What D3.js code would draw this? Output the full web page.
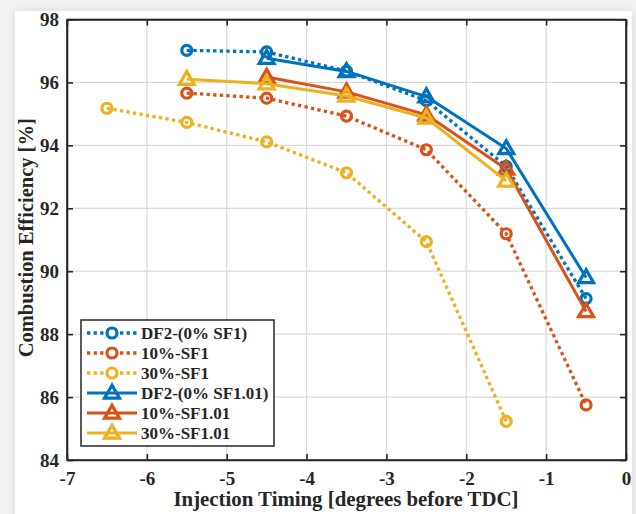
<!DOCTYPE html>
<html>
<head>
<meta charset="utf-8">
<script src="https://cdn.jsdelivr.net/npm/d3@7"></script>
<style>
  html, body { margin: 0; padding: 0; background: #ececec; }
  svg { display: block; }
</style>
</head>
<body>
<svg id="chart" width="636" height="514"></svg>
<script>
// Injection timing (degrees before TDC)
const timingSF1 = [-5.5, -4.5, -3.5, -2.5, -1.5, -0.5];
const timing30SF1 = [-6.5, -5.5, -4.5, -3.5, -2.5, -1.5];
const timingSF101 = [-4.5, -3.5, -2.5, -1.5, -0.5];
const timing30SF101 = [-5.5, -4.5, -3.5, -2.5, -1.5];

// Combustion efficiency [%]
const df2SF1 = [97.02, 96.97, 96.36, 95.42, 93.33, 89.13];
const p10SF1 = [95.66, 95.50, 94.93, 93.86, 91.19, 85.75];
const p30SF1 = [95.18, 94.73, 94.11, 93.13, 90.94, 85.23];
const df2SF101 = [96.77, 96.35, 95.55, 93.90, 89.80];
const p10SF101 = [96.17, 95.70, 94.97, 93.25, 88.72];
const p30SF101 = [96.10, 95.96, 95.57, 94.87, 92.87];

const seriesNames = ["DF2-(0% SF1)", "10%-SF1", "30%-SF1", "DF2-(0% SF1.01)", "10%-SF1.01", "30%-SF1.01"];
const xTicks = [-7, -6, -5, -4, -3, -2, -1, 0];
const yTicks = [84, 86, 88, 90, 92, 94, 96, 98];

const colors = ["#0072BD", "#D95319", "#EDB120"];

const series = [
  { name: seriesNames[0], x: timingSF1, y: df2SF1, color: colors[0], dotted: true, marker: "circle" },
  { name: seriesNames[1], x: timingSF1, y: p10SF1, color: colors[1], dotted: true, marker: "circle" },
  { name: seriesNames[2], x: timing30SF1, y: p30SF1, color: colors[2], dotted: true, marker: "circle" },
  { name: seriesNames[3], x: timingSF101, y: df2SF101, color: colors[0], dotted: false, marker: "triangle" },
  { name: seriesNames[4], x: timingSF101, y: p10SF101, color: colors[1], dotted: false, marker: "triangle" },
  { name: seriesNames[5], x: timing30SF101, y: p30SF101, color: colors[2], dotted: false, marker: "triangle" }
];

const svg = d3.select("#chart");
const W = 636, H = 514;
const font = "'Liberation Serif', 'Times New Roman', serif";
const ink = "#262626";
const fmt = d => String(d).replace("\u2212", "-");

// Page card with a soft shadow
const defs = svg.append("defs");
const sh = defs.append("filter").attr("id", "shadow").attr("x", "-10%").attr("y", "-10%").attr("width", "120%").attr("height", "120%");
sh.append("feGaussianBlur").attr("in", "SourceAlpha").attr("stdDeviation", 5).attr("result", "b");
sh.append("feFlood").attr("flood-color", "#000").attr("flood-opacity", 0.12);
sh.append("feComposite").attr("in2", "b").attr("operator", "in").attr("result", "s");
const mg = sh.append("feMerge");
mg.append("feMergeNode").attr("in", "s");
mg.append("feMergeNode").attr("in", "SourceGraphic");

svg.append("rect").attr("x", 0).attr("y", 0).attr("width", W).attr("height", H).attr("fill", "#f3f3f3");
svg.append("rect").attr("x", 15).attr("y", 11).attr("width", 617).attr("height", 520)
  .attr("fill", "#fff").attr("filter", "url(#shadow)");

const m = { left: 67, right: 626, top: 19.5, bottom: 460 };
const x = d3.scaleLinear().domain([-7, 0]).range([m.left, m.right]);
const y = d3.scaleLinear().domain([84, 98]).range([m.bottom, m.top]);

// Grid
const grid = svg.append("g").attr("stroke", "#dadada").attr("stroke-width", 1.2);
xTicks.slice(1, -1).forEach(t => grid.append("line")
  .attr("x1", x(t)).attr("x2", x(t)).attr("y1", m.top).attr("y2", m.bottom));
yTicks.slice(1, -1).forEach(t => grid.append("line")
  .attr("x1", m.left).attr("x2", m.right).attr("y1", y(t)).attr("y2", y(t)));

// Axes (ticks inward on all four sides)
const tickLen = 6;
const axB = svg.append("g").attr("transform", `translate(0,${m.bottom})`)
  .call(d3.axisBottom(x).tickValues(xTicks).tickSizeInner(-tickLen).tickSizeOuter(0).tickPadding(12).tickFormat(fmt));
const axT = svg.append("g").attr("transform", `translate(0,${m.top})`)
  .call(d3.axisTop(x).tickValues(xTicks).tickSizeInner(-tickLen).tickSizeOuter(0).tickFormat(""));
const axL = svg.append("g").attr("transform", `translate(${m.left},0)`)
  .call(d3.axisLeft(y).tickValues(yTicks).tickSizeInner(-tickLen).tickSizeOuter(0).tickPadding(8).tickFormat(fmt));
const axR = svg.append("g").attr("transform", `translate(${m.right},0)`)
  .call(d3.axisRight(y).tickValues(yTicks).tickSizeInner(-tickLen).tickSizeOuter(0).tickFormat(""));
[axB, axT, axL, axR].forEach(a => {
  a.select(".domain").attr("stroke", ink).attr("stroke-width", 1.6);
  a.selectAll(".tick line").attr("stroke", ink).attr("stroke-width", 1.6);
  a.selectAll("text").attr("fill", ink).attr("font-family", font)
    .attr("font-weight", "bold").attr("font-size", 19);
});
svg.append("rect").attr("x", m.left).attr("y", m.top).attr("width", m.right - m.left).attr("height", m.bottom - m.top)
  .attr("fill", "none").attr("stroke", ink).attr("stroke-width", 1.6);

// Axis titles
svg.append("text").attr("x", (m.left + m.right) / 2 - 0.5).attr("y", 506)
  .attr("text-anchor", "middle").attr("font-family", font).attr("font-weight", "bold")
  .attr("font-size", 20).attr("textLength", 345).attr("lengthAdjust", "spacingAndGlyphs")
  .attr("fill", ink).text("Injection Timing [degrees before TDC]");
svg.append("text").attr("transform", `translate(33,${(m.top + m.bottom) / 2 - 2}) rotate(-90)`)
  .attr("text-anchor", "middle").attr("font-family", font).attr("font-weight", "bold")
  .attr("font-size", 20).attr("textLength", 239).attr("lengthAdjust", "spacingAndGlyphs")
  .attr("fill", ink).text("Combustion Efficiency [%]");

// Markers
const triSize = 15;
function drawMarker(g, type, cx, cy, color) {
  if (type === "circle") {
    g.append("circle").attr("cx", cx).attr("cy", cy).attr("r", 5)
      .attr("fill", "none").attr("stroke", color).attr("stroke-width", 3.2);
  } else {
    const h = triSize * Math.sqrt(3) / 2;
    const pts = [[cx, cy - h * 0.6], [cx - triSize / 2, cy + h * 0.4], [cx + triSize / 2, cy + h * 0.4]];
    g.append("path").attr("d", "M" + pts.map(p => p.join(",")).join("L") + "Z")
      .attr("fill", "none").attr("stroke", color).attr("stroke-width", 3.2).attr("stroke-linejoin", "miter");
  }
}

const line = d3.line().x(d => x(d[0])).y(d => y(d[1]));
const plot = svg.append("g");
series.forEach(s => {
  const pts = s.x.map((v, i) => [v, s.y[i]]);
  const g = plot.append("g");
  g.append("path").attr("d", line(pts)).attr("fill", "none").attr("stroke", s.color)
    .attr("stroke-width", s.dotted ? 3.3 : 3).attr("stroke-dasharray", s.dotted ? "3.3,3.3" : null)
    .attr("stroke-linejoin", "round");
  pts.forEach(p => drawMarker(g, s.marker, x(p[0]), y(p[1]), s.color));
});

// Legend
const lg = svg.append("g");
const lx = 81, ly = 320, lw = 193, lh = 126;
lg.append("rect").attr("x", lx).attr("y", ly).attr("width", lw).attr("height", lh)
  .attr("fill", "#fff").attr("stroke", ink).attr("stroke-width", 1.5);
series.forEach((s, i) => {
  const cy = ly + 13 + i * 20;
  lg.append("line").attr("x1", lx + 6).attr("x2", lx + 56).attr("y1", cy).attr("y2", cy)
    .attr("stroke", s.color).attr("stroke-width", s.dotted ? 3.3 : 3).attr("stroke-dasharray", s.dotted ? "3.3,3.3" : null);
  if (s.marker === "circle") {
    lg.append("circle").attr("cx", lx + 31).attr("cy", cy).attr("r", 7).attr("fill", "#fff");
  }
  drawMarker(lg, s.marker, lx + 31, cy, s.color);
  lg.append("text").attr("x", lx + 60).attr("y", cy).attr("dy", "0.35em")
    .attr("font-family", font).attr("font-weight", "bold").attr("font-size", 17)
    .attr("fill", ink).text(s.name);
});
</script>
</body>
</html>
